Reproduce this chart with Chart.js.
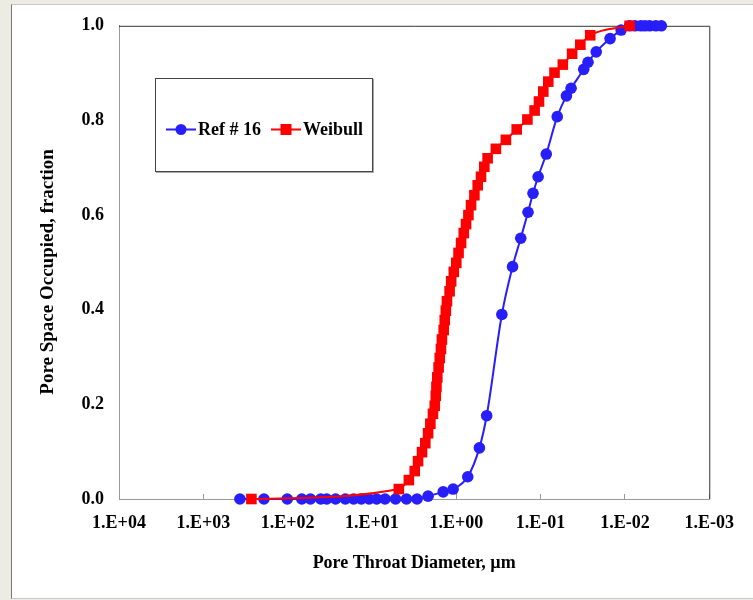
<!DOCTYPE html>
<html>
<head>
<meta charset="utf-8">
<script src="https://cdn.jsdelivr.net/npm/chart.js@4/dist/chart.umd.min.js"></script>
<style>
  body { margin: 0; background: #ecebe4; }
  #wrap { position: relative; width: 753px; height: 600px; }
  #frame { position: absolute; left: 11px; top: 4px; width: 742px; height: 593px;
    background: #fff; border-left: 1px solid #777; border-top: 1px solid #c8c8c8; border-bottom: 1px solid #c8c8c8; }
  #chart { position: absolute; left: 0; top: 0; }
  #legend { position: absolute; left: 155px; top: 78px; width: 216px; height: 92px;
    background: #fff; border: 1px solid #444; box-shadow: 1px 1px 0 #aaa;
    font: bold 18px "Liberation Serif", "Times New Roman", serif; color: #000; }
  .item { position: absolute; top: 50px; transform: translateY(-50%); display: flex; align-items: center; white-space: nowrap; }
  .sample { position: relative; width: 30px; height: 2px; margin-right: 2px; }
  .mark { position: absolute; left: 50%; top: 50%; transform: translate(-50%, -50%); }
</style>
</head>
<body>
<div id="wrap">
  <div id="frame"></div>
  <canvas id="chart" width="753" height="600"></canvas>
  <div id="legend"></div>
</div>
<script>
// Ref # 16 : pore throat diameter (um) vs fraction occupied
var refDiameter = [368, 191, 101, 68, 53.6, 40.5, 34.4, 27, 20.7, 16.5, 13.4, 10.8, 8.8, 7.0, 5.25, 3.9, 2.92,
  2.16, 1.43, 1.09, 0.731, 0.532, 0.436, 0.288, 0.215, 0.172, 0.141, 0.123, 0.107, 0.0857, 0.0635, 0.0494,
  0.0435, 0.0308, 0.0274, 0.0219, 0.015, 0.0111, 0.0088, 0.0076, 0.0065, 0.0058, 0.0051, 0.0043, 0.0037];
var refFraction = [0, 0, 0, 0, 0, 0, 0, 0, 0, 0, 0, 0, 0, 0, 0, 0, 0,
  0.006, 0.015, 0.021, 0.047, 0.108, 0.176, 0.390, 0.491, 0.551, 0.606, 0.646, 0.681, 0.729, 0.808, 0.852,
  0.868, 0.908, 0.923, 0.945, 0.973, 0.991, 1.0, 1.0, 1.0, 1.0, 1.0, 1.0, 1.0];

// Weibull fit
var weibullDiameter = [269, 4.8, 3.65, 3.11, 2.84, 2.55, 2.33, 2.16, 2.03, 1.89, 1.80, 1.75, 1.72, 1.68, 1.62,
  1.57, 1.52, 1.48, 1.41, 1.37, 1.33, 1.29, 1.20, 1.15, 1.07, 1.00, 0.94, 0.877, 0.815, 0.766, 0.718, 0.668,
  0.61, 0.557, 0.509, 0.465, 0.425, 0.339, 0.258, 0.192, 0.1435, 0.1178, 0.1045, 0.0929, 0.0811, 0.0684,
  0.0545, 0.0423, 0.0338, 0.0258, 0.0088];
var weibullFraction = [0, 0.021, 0.040, 0.059, 0.080, 0.099, 0.118, 0.139, 0.159, 0.180, 0.197, 0.218, 0.237,
  0.257, 0.278, 0.298, 0.317, 0.337, 0.357, 0.378, 0.398, 0.418, 0.439, 0.460, 0.480, 0.499, 0.520, 0.541,
  0.562, 0.581, 0.600, 0.621, 0.642, 0.663, 0.681, 0.702, 0.720, 0.740, 0.759, 0.781, 0.802, 0.821, 0.840,
  0.861, 0.882, 0.901, 0.918, 0.941, 0.960, 0.980, 1.0];

var xTicks = [1e4, 1e3, 1e2, 1e1, 1e0, 1e-1, 1e-2, 1e-3];
var yTicks = [0, 0.2, 0.4, 0.6, 0.8, 1.0];

var blue = 'rgb(40,30,250)';
var red = 'rgb(255,0,0)';
var fontFam = '"Liberation Serif", "Times New Roman", serif';

function toPoints(xs, ys) {
  return xs.map(function(x, i) { return { x: x, y: ys[i] }; });
}

function expLabel(v) {
  var e = Math.round(Math.log10(v));
  var s = e < 0 ? '-' : '+';
  var n = Math.abs(e);
  return '1.E' + s + (n < 10 ? '0' : '') + n;
}

// top and right edges of the plot box
var boxEdges = {
  id: 'boxEdges',
  beforeDatasetsDraw: function(chart) {
    var a = chart.chartArea, ctx = chart.ctx;
    ctx.save();
    ctx.strokeStyle = '#333';
    ctx.lineWidth = 1;
    ctx.beginPath();
    ctx.moveTo(a.left, a.top + 0.5);
    ctx.lineTo(a.right + 0.5, a.top + 0.5);
    ctx.lineTo(a.right + 0.5, a.bottom);
    ctx.stroke();
    ctx.restore();
  }
};

var datasets = [{
  label: 'Ref # 16',
  data: toPoints(refDiameter, refFraction),
  borderColor: blue,
  backgroundColor: blue,
  borderWidth: 2,
  pointStyle: 'circle',
  pointRadius: 5.8,
  pointBorderWidth: 0,
  cubicInterpolationMode: 'monotone',
  showLine: true,
  clip: false,
  order: 1
}, {
  label: 'Weibull',
  data: toPoints(weibullDiameter, weibullFraction),
  borderColor: red,
  backgroundColor: red,
  borderWidth: 2,
  pointStyle: 'rect',
  pointRadius: 7.5,
  pointBorderWidth: 0,
  cubicInterpolationMode: 'monotone',
  showLine: true,
  clip: false,
  order: 0
}];

var ctx = document.getElementById('chart').getContext('2d');
var myChart = new Chart(ctx, {
  type: 'scatter',
  data: { datasets: datasets },
  plugins: [boxEdges],
  options: {
    responsive: false,
    animation: false,
    layout: { padding: { left: 0, right: 37, top: 23, bottom: 0 } },
    plugins: { legend: { display: false }, tooltip: { enabled: false } },
    scales: {
      x: {
        type: 'logarithmic',
        reverse: true,
        min: 1e-3,
        max: 1e4,
        afterBuildTicks: function(scale) {
          scale.ticks = xTicks.map(function(v) { return { value: v }; });
        },
        afterFit: function(scale) { scale.height = 101; },
        grid: { display: true, drawOnChartArea: false, drawTicks: true, tickLength: -5, color: '#999' },
        border: { display: true, color: '#999', width: 1 },
        ticks: {
          autoSkip: false, maxRotation: 0, padding: 19, color: '#000',
          font: { family: fontFam, size: 18, weight: 'bold' },
          callback: function(v) { return expLabel(v); }
        },
        title: {
          display: true, text: 'Pore Throat Diameter, \u00b5m', color: '#000',
          font: { family: fontFam, size: 18, weight: 'bold' },
          padding: { top: 0, bottom: 26 }
        }
      },
      y: {
        min: 0,
        max: 1,
        afterBuildTicks: function(scale) {
          scale.ticks = yTicks.map(function(v) { return { value: v }; });
        },
        afterFit: function(scale) { scale.width = 119; },
        grid: { display: false, drawTicks: false },
        border: { display: true, color: '#999', width: 1 },
        ticks: {
          padding: 15, color: '#000',
          font: { family: fontFam, size: 18, weight: 'bold' },
          callback: function(v) { return v.toFixed(1); }
        },
        title: {
          display: true, text: 'Pore Space Occupied, fraction\u00a0\u00a0\u00a0\u00a0', color: '#000',
          font: { family: fontFam, size: 19, weight: 'bold' },
          padding: { top: 37, bottom: 0 }
        }
      }
    }
  }
});

// legend box inside the plot, built from the dataset styles
var legend = document.getElementById('legend');
var lefts = [10, 115];
datasets.forEach(function(ds, i) {
  var item = document.createElement('div');
  item.className = 'item';
  item.style.left = lefts[i] + 'px';
  var sample = document.createElement('span');
  sample.className = 'sample';
  sample.style.background = ds.borderColor;
  var mark = document.createElement('span');
  mark.className = 'mark';
  mark.style.width = '11px';
  mark.style.height = '11px';
  mark.style.background = ds.backgroundColor;
  if (ds.pointStyle === 'circle') mark.style.borderRadius = '50%';
  sample.appendChild(mark);
  var txt = document.createElement('span');
  txt.textContent = ds.label;
  item.appendChild(sample);
  item.appendChild(txt);
  legend.appendChild(item);
});
</script>
</body>
</html>
